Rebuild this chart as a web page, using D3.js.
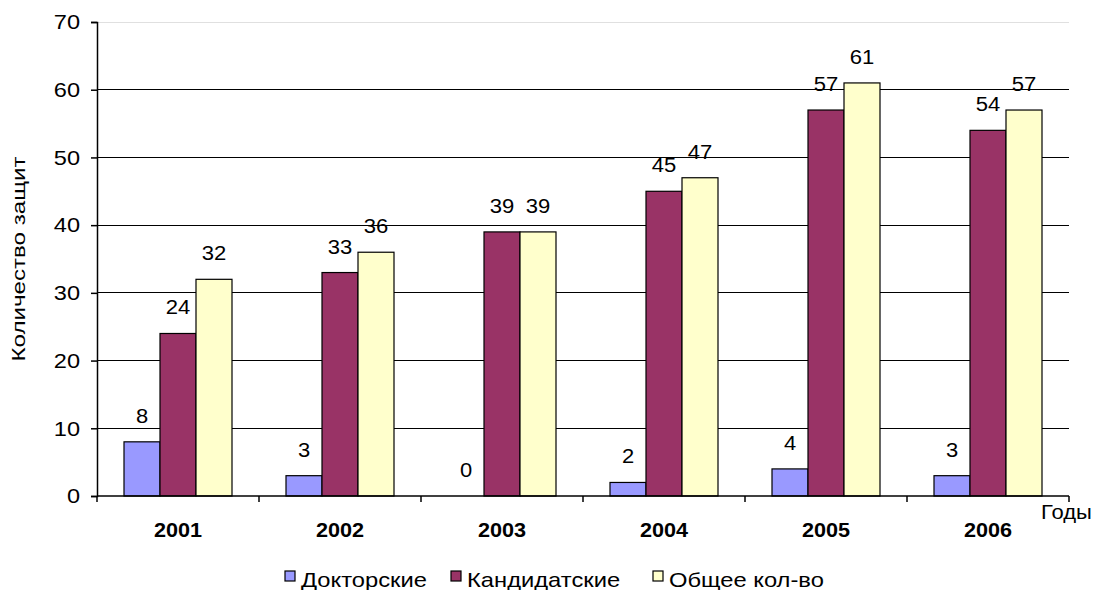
<!DOCTYPE html>
<html><head><meta charset="utf-8">
<script src="https://cdn.jsdelivr.net/npm/d3@7"></script>
<style>body{margin:0;background:#fff}svg{display:block}text{font-family:"Liberation Sans",Arial,sans-serif}</style>
</head><body>
<svg id="c" width="1094" height="590"></svg>
<script>
const years = ["2001","2002","2003","2004","2005","2006"];
const seriesNames = ["Докторские","Кандидатские","Общее кол-во"];
const doktor = [8,3,0,2,4,3];
const kandidat = [24,33,39,45,57,54];
const total = [32,36,39,47,61,57];
const yTicks = [0,10,20,30,40,50,60,70];
const colors = ["#9999FF","#993366","#FFFFCC"];
const seriesValues = [doktor,kandidat,total];

const svg = d3.select("#c");
const L = 97, R = 1069, T = 22, B = 496;
const x = d3.scaleBand().domain(years).range([L,R]).padding(0);
const bw = x.bandwidth();
const xs = d3.scaleBand().domain(seriesNames).range([bw/6, bw*5/6]).padding(0);
const y = d3.scaleLinear().domain([0,70]).range([B,T]);

function stretch(sel, k){
  sel.each(function(){
    const len = this.getComputedTextLength();
    this.setAttribute("textLength", (len*k).toFixed(1));
    this.setAttribute("lengthAdjust","spacingAndGlyphs");
  });
}

// gridlines
svg.append("g").selectAll("line").data(yTicks.filter(d=>d>0)).join("line")
  .attr("x1",L).attr("x2",R).attr("y1",d=>y(d)).attr("y2",d=>y(d))
  .attr("stroke",d=>d===70?"#e0e0e0":"#000").attr("stroke-width",1)
  .attr("shape-rendering","crispEdges");

// bars
const rows = [];
years.forEach((yr,i)=>seriesNames.forEach((s,j)=>rows.push({yr,s,j,v:seriesValues[j][i]})));
svg.append("g").selectAll("rect").data(rows.filter(d=>d.v>0)).join("rect")
  .attr("x",d=>x(d.yr)+xs(d.s)).attr("width",xs.bandwidth())
  .attr("y",d=>y(d.v)).attr("height",d=>B-y(d.v))
  .attr("fill",d=>colors[d.j]).attr("stroke","#000").attr("stroke-width",1.2);

// value labels
const vl = svg.append("g").selectAll("text").data(rows).join("text")
  .attr("x",d=>x(d.yr)+xs(d.s)+xs.bandwidth()/2).attr("y",d=>y(d.v)-19)
  .attr("text-anchor","middle").attr("font-size",20).attr("fill","#000")
  .text(d=>d.v);
stretch(vl,1.1);

// y axis
const ya = svg.append("g").attr("transform",`translate(${L},0)`)
  .call(d3.axisLeft(y).tickValues(yTicks).tickSize(6).tickPadding(11).tickFormat(d3.format("d")));
ya.attr("font-family",null);
ya.select(".domain").attr("stroke","#000").attr("stroke-width",1.5);
ya.selectAll(".tick line").attr("stroke","#000").attr("stroke-width",1.5);
ya.selectAll("text").attr("font-size",21).attr("fill","#000");
stretch(ya.selectAll("text"),1.12);

// x axis
const xa = svg.append("g").attr("transform",`translate(0,${B})`)
  .call(d3.axisBottom(x).tickSize(0).tickPadding(0));
xa.attr("font-family",null);
xa.select(".domain").remove();
xa.append("line").attr("x1",L).attr("x2",R).attr("stroke","#000").attr("stroke-width",1.5);
xa.selectAll(".tick text").attr("font-size",20).attr("font-weight","bold").attr("fill","#000")
  .attr("dy",null).attr("y",41);
stretch(xa.selectAll(".tick text"),1.08);
xa.selectAll(".bnd").data(d3.range(years.length+1)).join("line").attr("class","bnd")
  .attr("x1",i=>L+i*bw).attr("x2",i=>L+i*bw).attr("y1",0).attr("y2",6)
  .attr("stroke","#000").attr("stroke-width",1.5);

// axis titles
const gx = svg.append("text").attr("x",1041).attr("y",519).attr("font-size",20).text("Годы");
stretch(gx,1.1);
const yt = svg.append("text").attr("transform",`translate(25,${(T+B)/2}) rotate(-90)`)
  .attr("text-anchor","middle").attr("font-size",19).text("Количество защит");
yt.attr("textLength",205).attr("lengthAdjust","spacingAndGlyphs");

// legend
const lg = svg.append("g");
const sqx = [285, 451, 653];
seriesNames.forEach((s,j)=>{
  lg.append("rect").attr("x",sqx[j]).attr("y",571).attr("width",10).attr("height",10)
    .attr("fill",colors[j]).attr("stroke","#000").attr("stroke-width",1.2);
  const t = lg.append("text").attr("x",sqx[j]+16).attr("y",587).attr("font-size",21).text(s);
  stretch(t,1.13);
});
</script>
</body></html>
